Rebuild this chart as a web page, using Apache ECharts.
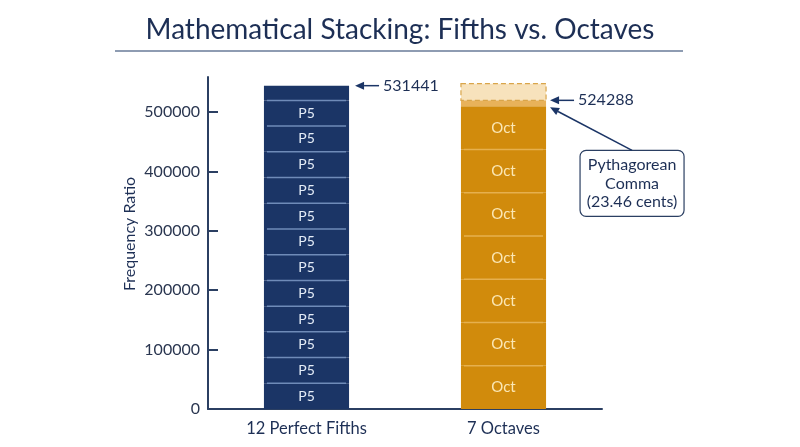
<!DOCTYPE html>
<html>
<head>
<meta charset="utf-8">
<title>Mathematical Stacking: Fifths vs. Octaves</title>
<script src="https://cdn.jsdelivr.net/npm/echarts@6/dist/echarts.min.js"></script>
<style>
  html, body { margin: 0; padding: 0; background: #fff; }
  #chart { width: 800px; height: 447px; }
</style>
</head>
<body>
<div id="chart"></div>
<script>
  // categories on the x axis
  const categories = ['12 Perfect Fifths', '7 Octaves'];
  // stacked pieces as drawn in the picture (bottom to top)
  const fifthSegments = [43300, 43300, 43300, 43300, 43300, 43300, 43300, 43300, 43300, 43300, 43300, 43300, 24800];
  const fifthLabels = ['P5', 'P5', 'P5', 'P5', 'P5', 'P5', 'P5', 'P5', 'P5', 'P5', 'P5', 'P5', ''];
  const octaveSegments = [72800, 72800, 72800, 72800, 72800, 72800, 72800, 10100, 28100];
  const octaveLabels = ['Oct', 'Oct', 'Oct', 'Oct', 'Oct', 'Oct', 'Oct', '', ''];
  // annotation texts
  const fifthsTotal = '531441';
  const octavesTotal = '524288';
  const commaNote = ['Pythagorean', 'Comma', '(23.46 cents)'];
  const yTicks = [0, 100000, 200000, 300000, 400000, 500000];

  const NAVY = '#1b3566';
  const GOLD = '#d18b0c';
  const INK = '#1d2f55';

  // build [cat, start, end, label, kind] rows
  function stackRows(catIdx, segs, labels, kinds) {
    let rows = [], acc = 0;
    segs.forEach((v, i) => {
      rows.push([catIdx, acc, acc + v, labels[i], kinds[i]]);
      acc += v;
    });
    return rows;
  }
  const fifthKinds = fifthSegments.map((v, i) => i < 12 ? 'p5' : 'cap');
  const octKinds = octaveSegments.map((v, i) => i < 7 ? 'oct' : (i === 7 ? 'band' : 'comma'));
  const rows = stackRows(0, fifthSegments, fifthLabels, fifthKinds)
    .concat(stackRows(1, octaveSegments, octaveLabels, octKinds));

  const fills = { p5: NAVY, cap: NAVY, oct: GOLD, band: '#e8b25a', comma: '#f7e2bc' };
  const dividers = { p5: '#6f8bb8', cap: '#6f8bb8', oct: '#e6b04e' };
  const textColors = { p5: '#e4ecf7', oct: '#fbe7b5' };

  function renderSeg(params, api) {
    const cat = api.value(0);
    const lo = api.coord([cat, api.value(1)]);
    const hi = api.coord([cat, api.value(2)]);
    const w = api.size([1, 0])[0] * 0.432;
    const kind = rows[params.dataIndex][4];
    const label = rows[params.dataIndex][3];
    const x = lo[0] - w / 2;
    const children = [];
    if (kind === 'comma') {
      children.push({
        type: 'rect',
        shape: { x: x, y: hi[1], width: w, height: lo[1] - hi[1] },
        style: { fill: fills.comma, stroke: '#d9a54a', lineWidth: 1.2, lineDash: [5, 3] }
      });
    } else {
      children.push({
        type: 'rect',
        shape: { x: x, y: hi[1], width: w, height: lo[1] - hi[1] },
        style: { fill: fills[kind] }
      });
    }
    if (dividers[kind] && api.value(1) > 0) {
      children.push({
        type: 'line',
        shape: { x1: x + 3, y1: lo[1], x2: x + w - 3, y2: lo[1] },
        style: { stroke: dividers[kind], lineWidth: 1.5 }
      });
    }
    if (label) {
      children.push({
        type: 'text',
        style: {
          text: label, x: lo[0], y: (lo[1] + hi[1]) / 2,
          align: 'center', verticalAlign: 'middle',
          fill: textColors[kind], font: (kind === 'oct' ? 15 : 14) + 'px Lato'
        }
      });
    }
    return { type: 'group', children: children };
  }

  const chart = echarts.init(document.getElementById('chart'));
  chart.setOption({
    backgroundColor: '#fff',
    animation: false,
    textStyle: { fontFamily: 'Lato' },
    title: {
      text: 'Mathematical Stacking: Fifths vs. Octaves',
      left: 'center', top: 11,
      textStyle: { color: INK, fontSize: 28, fontWeight: 'normal', fontFamily: 'Lato' }
    },
    grid: { left: 208, right: 198, top: 77, bottom: 38 },
    xAxis: {
      type: 'category',
      data: categories,
      axisLine: { lineStyle: { color: '#2b3f62', width: 2 } },
      axisTick: { show: false },
      axisLabel: { color: INK, fontSize: 16.5, margin: 11 }
    },
    yAxis: {
      type: 'value',
      min: 0, max: 559000,
      name: 'Frequency Ratio',
      nameLocation: 'middle',
      nameGap: 70,
      nameTextStyle: { color: INK, fontSize: 16, padding: [0, 0, 0, 18] },
      splitLine: { show: false },
      axisLine: { show: true, lineStyle: { color: '#2b3f62', width: 2 } },
      axisTick: { show: true, inside: true, length: 10, customValues: yTicks, lineStyle: { color: '#2b3f62', width: 2 } },
      axisLabel: { color: '#2a3650', fontSize: 16, margin: 8, customValues: yTicks, formatter: v => String(v) }
    },
    series: [{
      type: 'custom',
      renderItem: renderSeg,
      data: rows.map(r => [r[0], r[1], r[2]]),
      encode: { x: 0, y: [1, 2] },
      z: 2
    }],
    graphic: []
  });

  // annotations, placed through the chart's own scale
  const fifthTop = fifthSegments.reduce((a, b) => a + b, 0);
  const octBase = octaveSegments.slice(0, 8).reduce((a, b) => a + b, 0);
  const octSolid = octaveSegments.slice(0, 7).reduce((a, b) => a + b, 0);
  const half = 197 * 0.432 / 2;
  const p1 = chart.convertToPixel({ gridIndex: 0 }, [0, fifthTop]);
  const p2 = chart.convertToPixel({ gridIndex: 0 }, [1, octBase]);
  const p3 = chart.convertToPixel({ gridIndex: 0 }, [1, octSolid]);

  function arrow(x1, y1, x2, y2) {
    // tail (x1,y1) -> tip (x2,y2)
    const ang = Math.atan2(y2 - y1, x2 - x1), L = 9, H = 4;
    const bx = x2 - L * Math.cos(ang), by = y2 - L * Math.sin(ang);
    return [{
      type: 'line', z: 10,
      shape: { x1: x1, y1: y1, x2: bx, y2: by },
      style: { stroke: NAVY, lineWidth: 1.5 }
    }, {
      type: 'polygon', z: 10,
      shape: { points: [[x2, y2], [bx - H * Math.sin(ang), by + H * Math.cos(ang)], [bx + H * Math.sin(ang), by - H * Math.cos(ang)]] },
      style: { fill: NAVY }
    }];
  }
  function text(t, x, y, align) {
    return {
      type: 'text', z: 10, x: x, y: y,
      style: { text: t, align: align || 'left', verticalAlign: 'middle', fill: INK, font: '16px Lato' }
    };
  }

  const tip1 = p1[0] + half + 6, tip2 = p2[0] + half + 4;
  const boxX = tip2 + 30, boxY = p3[1] + 44, boxW = 104, boxH = 66;
  let g = [];
  g = g.concat(arrow(tip1 + 24, p1[1], tip1, p1[1]));
  g.push(text(fifthsTotal, tip1 + 28, p1[1]));
  g = g.concat(arrow(tip2 + 24, p2[1], tip2, p2[1]));
  g.push(text(octavesTotal, tip2 + 28, p2[1]));
  g = g.concat(arrow(boxX + boxW / 2, boxY, tip2, p3[1] + 1));
  g.push({
    type: 'rect', z: 9,
    shape: { x: boxX, y: boxY, width: boxW, height: boxH, r: 6 },
    style: { fill: '#fff', stroke: '#2b3f62', lineWidth: 1.2 }
  });
  commaNote.forEach((t, i) => {
    g.push(text(t, boxX + boxW / 2, boxY + 15 + i * 18.5, 'center'));
  });
  // rule under the title
  g.push({
    type: 'line', z: 10,
    shape: { x1: 115, y1: 51, x2: 683, y2: 51 },
    style: { stroke: '#1f3a66', lineWidth: 1.2 }
  });
  chart.setOption({ graphic: g });
</script>
</body>
</html>
